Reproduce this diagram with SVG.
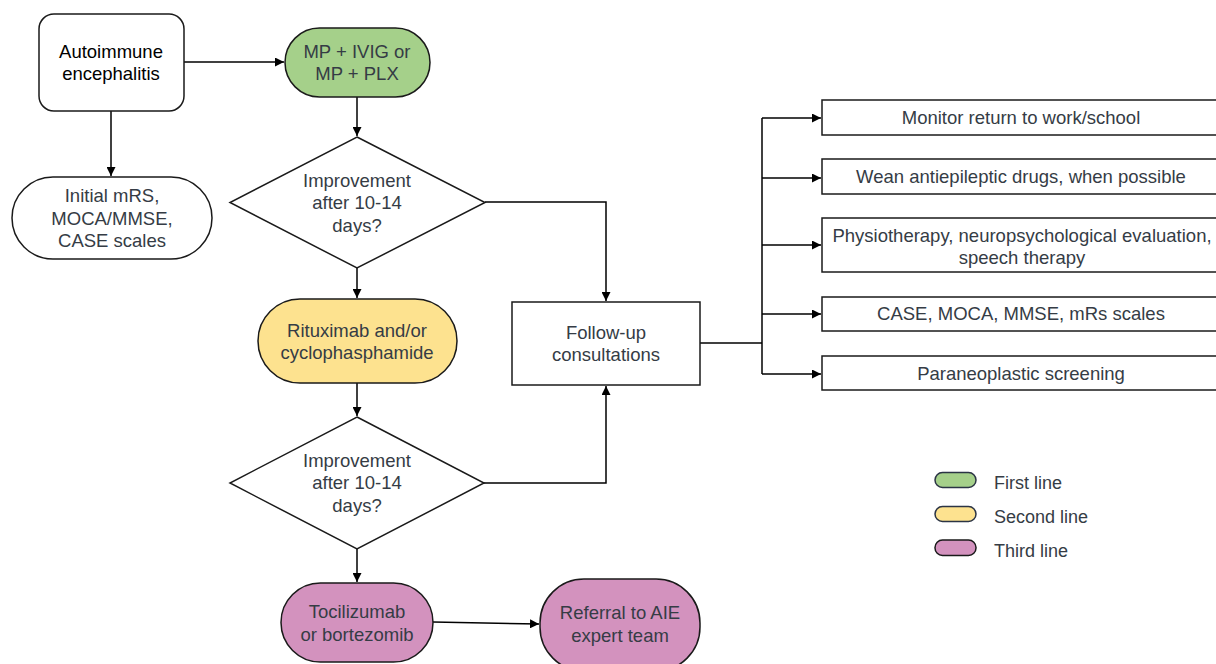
<svg xmlns="http://www.w3.org/2000/svg" width="1216" height="664" viewBox="0 0 1216 664">
<defs>
<marker id="ah" viewBox="0 0 10 10" refX="10" refY="5" markerWidth="9" markerHeight="9" markerUnits="userSpaceOnUse" orient="auto">
<path d="M0,0 L10,5 L0,10 z" fill="#000"/>
</marker>
<style>
.n{stroke:#1a1a1a;stroke-width:1.5;fill:#fff}
.g{fill:#a5d08a}
.y{fill:#fde28f}
.p{fill:#d392be}
.t{font-family:"Liberation Sans",Arial,sans-serif;font-size:18.5px;fill:#353c45;text-anchor:middle}
.k{fill:#000}
.lt{font-family:"Liberation Sans",Arial,sans-serif;font-size:18px;fill:#353c45}
.c{fill:none;stroke:#000;stroke-width:1.5}
.ca{fill:none;stroke:#000;stroke-width:1.5;marker-end:url(#ah)}
</style>
</defs>
<rect width="1216" height="664" fill="#fff"/>
<g id="connectors">
<path class="ca" d="M184,62 H284"/>
<path class="ca" d="M111,111 V176"/>
<path class="ca" d="M357,97 V136"/>
<path class="ca" d="M357,268 V298"/>
<path class="ca" d="M357,383 V416"/>
<path class="ca" d="M357,549 V582"/>
<path class="ca" d="M433,622 L539,624"/>
<path class="ca" d="M485,202 H606 V301"/>
<path class="ca" d="M484,483 H606 V386"/>
<path class="c" d="M700,343 H762"/>
<path class="c" d="M762,118 V374"/>
<path class="ca" d="M762,118 H821"/>
<path class="ca" d="M762,178 H821"/>
<path class="ca" d="M762,245 H821"/>
<path class="ca" d="M762,314 H821"/>
<path class="ca" d="M762,374 H821"/>
</g>
<g id="autoimmune">
<rect class="n" x="39" y="14" width="145" height="97" rx="15"/>
<text class="t k" x="111" y="58">Autoimmune</text>
<text class="t k" x="111" y="80">encephalitis</text>
</g>
<g id="mp">
<rect class="n g" x="285" y="28" width="145" height="69" rx="34.5"/>
<text class="t" x="357" y="58">MP + IVIG or</text>
<text class="t" x="357" y="80">MP + PLX</text>
</g>
<g id="initial">
<rect class="n" x="12" y="177" width="200" height="82" rx="41"/>
<text class="t" x="112" y="202">Initial mRS,</text>
<text class="t" x="112" y="225">MOCA/MMSE,</text>
<text class="t" x="112" y="247">CASE scales</text>
</g>
<g id="decision1">
<polygon class="n" points="357,137 485,202.5 357,268 230,202.5"/>
<text class="t" x="357" y="187">Improvement</text>
<text class="t" x="357" y="209">after 10-14</text>
<text class="t" x="357" y="232">days?</text>
</g>
<g id="rituximab">
<rect class="n y" x="258" y="299" width="199" height="84" rx="42"/>
<text class="t" x="357" y="337">Rituximab and/or</text>
<text class="t" x="357" y="359">cyclophasphamide</text>
</g>
<g id="decision2">
<polygon class="n" points="357,417 484,483 357,549 230,483"/>
<text class="t" x="357" y="467">Improvement</text>
<text class="t" x="357" y="489">after 10-14</text>
<text class="t" x="357" y="512">days?</text>
</g>
<g id="tocilizumab">
<rect class="n p" x="281" y="583" width="152" height="79" rx="39.5"/>
<text class="t" x="357" y="618">Tocilizumab</text>
<text class="t" x="357" y="641">or bortezomib</text>
</g>
<g id="referral">
<rect class="n p" x="540" y="579" width="160" height="92" rx="44"/>
<text class="t" x="620" y="619">Referral to AIE</text>
<text class="t" x="620" y="642">expert team</text>
</g>
<g id="followup">
<rect class="n" x="512" y="302" width="188" height="83"/>
<text class="t" x="606" y="339">Follow-up</text>
<text class="t" x="606" y="361">consultations</text>
</g>
<g id="monitor">
<rect class="n" x="822" y="100" width="400" height="35"/>
<text class="t" x="1021" y="124">Monitor return to work/school</text>
</g>
<g id="wean">
<rect class="n" x="822" y="159" width="400" height="35"/>
<text class="t" x="1021" y="183">Wean antiepileptic drugs, when possible</text>
</g>
<g id="physio">
<rect class="n" x="822" y="218" width="400" height="54"/>
<text class="t" x="1022" y="242">Physiotherapy, neuropsychological evaluation,</text>
<text class="t" x="1022" y="264">speech therapy</text>
</g>
<g id="scales">
<rect class="n" x="822" y="297" width="400" height="34"/>
<text class="t" x="1021" y="320">CASE, MOCA, MMSE, mRs scales</text>
</g>
<g id="paraneoplastic">
<rect class="n" x="822" y="356" width="400" height="34"/>
<text class="t" x="1021" y="380">Paraneoplastic screening</text>
</g>
<g id="legend">
<rect x="935" y="472.5" width="41" height="15" rx="7.5" fill="#a5d08a" stroke="#2b3445" stroke-width="1.5"/>
<text class="lt" x="994" y="489">First line</text>
<rect x="935" y="506.5" width="41" height="15" rx="7.5" fill="#fde28f" stroke="#2b3445" stroke-width="1.5"/>
<text class="lt" x="994" y="523">Second line</text>
<rect x="935" y="540" width="41" height="15.5" rx="7.5" fill="#d392be" stroke="#1a1a1a" stroke-width="1.5"/>
<text class="lt" x="994" y="557">Third line</text>
</g>
</svg>
